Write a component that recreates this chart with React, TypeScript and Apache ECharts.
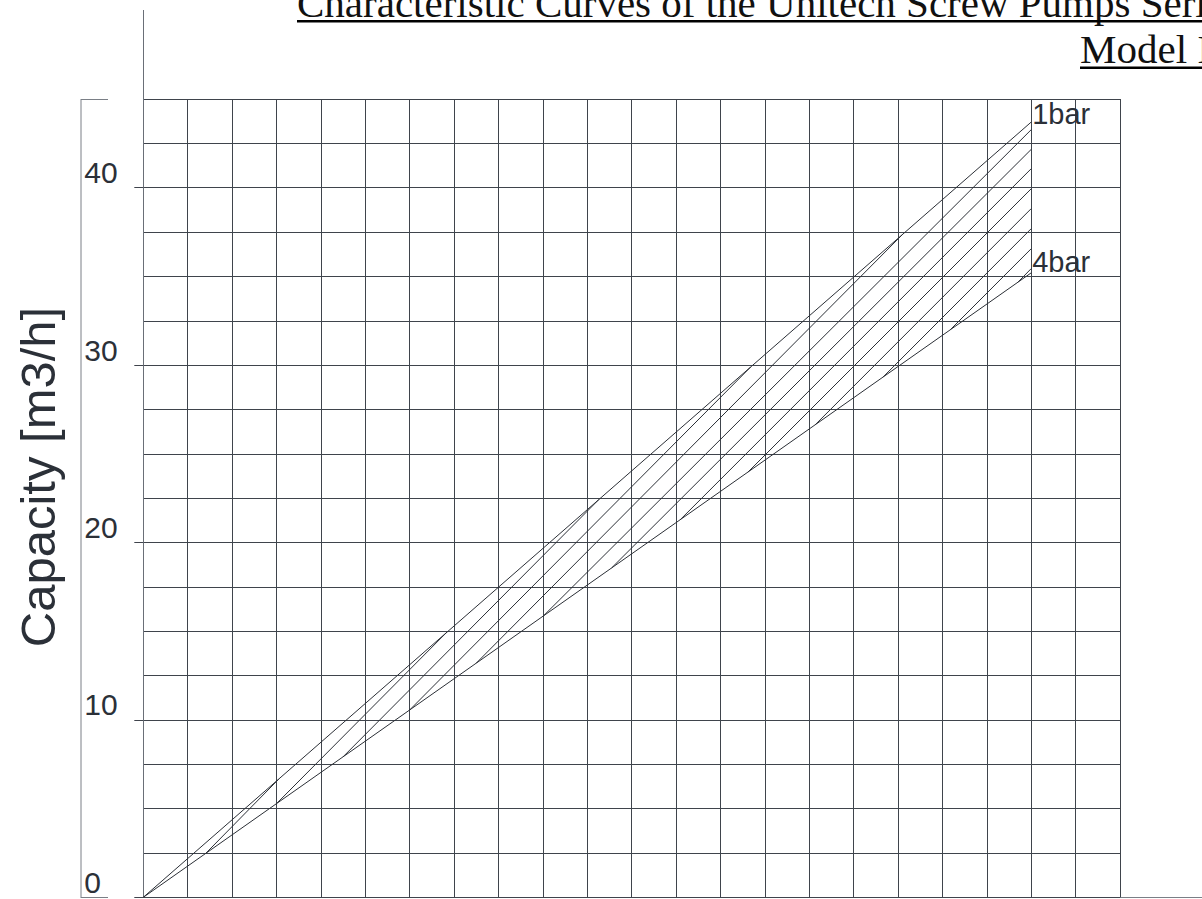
import React, { useEffect, useRef } from "react";
import * as echarts from "echarts";

// ---- axes ----
const rpmMin = 0;
const rpmMax = 2200;
const rpmStep = 100;
const capMin = 0;
const capMax = 45;
const capStep = 2.5;
const capLabelValues = [0, 10, 20, 30, 40];

// ---- envelope lines (capacity vs speed) ----
const envelopeRpm = [0, 2000];
const cap1bar = [0, 43.7];
const cap4bar = [0, 35.2];

// ---- hatching lines between 4bar and 1bar ----
const hatchStartRpm = [140, 300, 450, 600, 750, 902, 1055, 1210, 1362, 1514, 1666, 1818, 1970];
const hatchStartCap = [2.46, 5.28, 7.92, 10.56, 13.2, 15.88, 18.57, 21.3, 23.97, 26.65, 29.32, 32.0, 34.67];
const hatchEndRpm = [305, 684, 1026, 1368, 1710, 2000, 2000, 2000, 2000, 2000, 2000, 2000, 2000];
const hatchEndCap = [6.66, 14.95, 22.42, 29.89, 37.36, 43.27, 42.16, 41.07, 39.94, 38.82, 37.69, 36.56, 35.44];

// ---- texts ----
const titleLine1 = "Characteristic Curves of the Unitech Screw Pumps Series";
const titleLine2 = "Model I";
const yAxisTitle = "Capacity [m3/h]";
const label1bar = "1bar";
const label4bar = "4bar";

const LINE = "#2b2f36";
const GRID = "#3f444c";
const TEXT = "#2b3038";
const SANS = "'Liberation Sans', Arial, sans-serif";
const SERIF = "'Liberation Serif', 'Times New Roman', serif";

export default function App() {
  const ref = useRef<HTMLDivElement>(null);

  useEffect(() => {
    if (!ref.current) return;
    const chart = echarts.init(ref.current, undefined, { renderer: "svg" });

    const lineStyle = { color: LINE, width: 1 };

    const hatchSeries = hatchStartRpm.map((x0, i) => ({
      type: "line",
      name: "hatch" + i,
      showSymbol: false,
      symbol: "none",
      silent: true,
      lineStyle,
      data: [
        [x0, hatchStartCap[i]],
        [hatchEndRpm[i], hatchEndCap[i]],
      ],
    }));

    const envLabel = (text: string, dy: number) => ({
      show: true,
      formatter: text,
      fontSize: 29,
      fontFamily: SANS,
      color: TEXT,
      distance: 1,
      align: "left",
      verticalAlign: "bottom",
      offset: [0, dy],
    });

    const option: any = {
      animation: false,
      textStyle: { fontFamily: SANS },
      grid: { left: 143.3, right: 82, top: 99, bottom: 1.7, containLabel: false },
      xAxis: {
        type: "value",
        min: rpmMin,
        max: rpmMax,
        interval: rpmStep,
        axisLine: { show: false },
        axisTick: { show: false },
        axisLabel: { show: false },
        splitLine: { show: true, lineStyle: { color: GRID, width: 1 } },
      },
      yAxis: [
        {
          type: "value",
          min: capMin,
          max: capMax,
          interval: capStep,
          axisLine: { show: true, lineStyle: { color: "#6a6f77", width: 1 } },
          axisTick: { show: false },
          axisLabel: {
            show: true,
            formatter: (v: number) => (capLabelValues.indexOf(v) >= 0 ? String(v) : ""),
            fontSize: 30,
            fontFamily: SANS,
            color: TEXT,
            align: "left",
            verticalAlign: "bottom",
            margin: 59,
          },
          splitLine: { show: true, lineStyle: { color: GRID, width: 1 } },
        },
        {
          type: "value",
          position: "left",
          min: capMin,
          max: capMax,
          interval: capStep,
          axisLine: { show: false },
          axisTick: {
            show: true,
            customValues: capLabelValues,
            length: 9,
            lineStyle: { color: GRID, width: 1 },
          },
          axisLabel: { show: false },
          splitLine: { show: false },
        },
      ],
      series: [
        {
          type: "line",
          name: label1bar,
          showSymbol: false,
          symbol: "none",
          lineStyle,
          data: envelopeRpm.map((x, i) => [x, cap1bar[i]]),
          endLabel: envLabel(label1bar, 6),
        },
        {
          type: "line",
          name: label4bar,
          showSymbol: false,
          symbol: "none",
          lineStyle,
          data: envelopeRpm.map((x, i) => [x, cap4bar[i]]),
          endLabel: envLabel(label4bar, 4),
        },
        ...hatchSeries,
      ],
      graphic: [
        // y axis extension above the plot
        { type: "line", shape: { x1: 143.5, y1: 10, x2: 143.5, y2: 99 }, style: { stroke: "#6a6f77", lineWidth: 1 } },
        // bottom axis line extending to the right edge
        { type: "line", shape: { x1: 143, y1: 897.5, x2: 1202, y2: 897.5 }, style: { stroke: "#7a7f86", lineWidth: 1 } },
        // left bracket
        { type: "line", shape: { x1: 81, y1: 99, x2: 81, y2: 898 }, style: { stroke: "#7a7f86", lineWidth: 1 } },
        { type: "line", shape: { x1: 81, y1: 99.5, x2: 108, y2: 99.5 }, style: { stroke: "#7a7f86", lineWidth: 1 } },
        { type: "line", shape: { x1: 81, y1: 897.5, x2: 108, y2: 897.5 }, style: { stroke: "#7a7f86", lineWidth: 1 } },
        // y axis title
        {
          type: "text",
          x: 38,
          y: 477,
          rotation: Math.PI / 2,
          style: {
            text: yAxisTitle,
            font: "49px " + SANS,
            fill: TEXT,
            textAlign: "center",
            textVerticalAlign: "middle",
          },
        },
        // title
        {
          type: "text",
          x: 297,
          y: 3,
          style: {
            text: titleLine1,
            font: "41px " + SERIF,
            fill: "#111",
            textAlign: "left",
            textVerticalAlign: "middle",
          },
        },
        { type: "rect", shape: { x: 297, y: 20, width: 905, height: 2.4 }, style: { fill: "#000" } },
        {
          type: "text",
          x: 1080,
          y: 49,
          style: {
            text: titleLine2,
            font: "41px " + SERIF,
            fill: "#111",
            textAlign: "left",
            textVerticalAlign: "middle",
          },
        },
        { type: "rect", shape: { x: 1080, y: 66.5, width: 122, height: 2.4 }, style: { fill: "#000" } },
      ],
    };

    chart.setOption(option);
    return () => chart.dispose();
  }, []);

  return (
    <div
      ref={ref}
      style={{ position: "absolute", left: 0, top: 0, width: 1202, height: 899, background: "#fff" }}
    />
  );
}
